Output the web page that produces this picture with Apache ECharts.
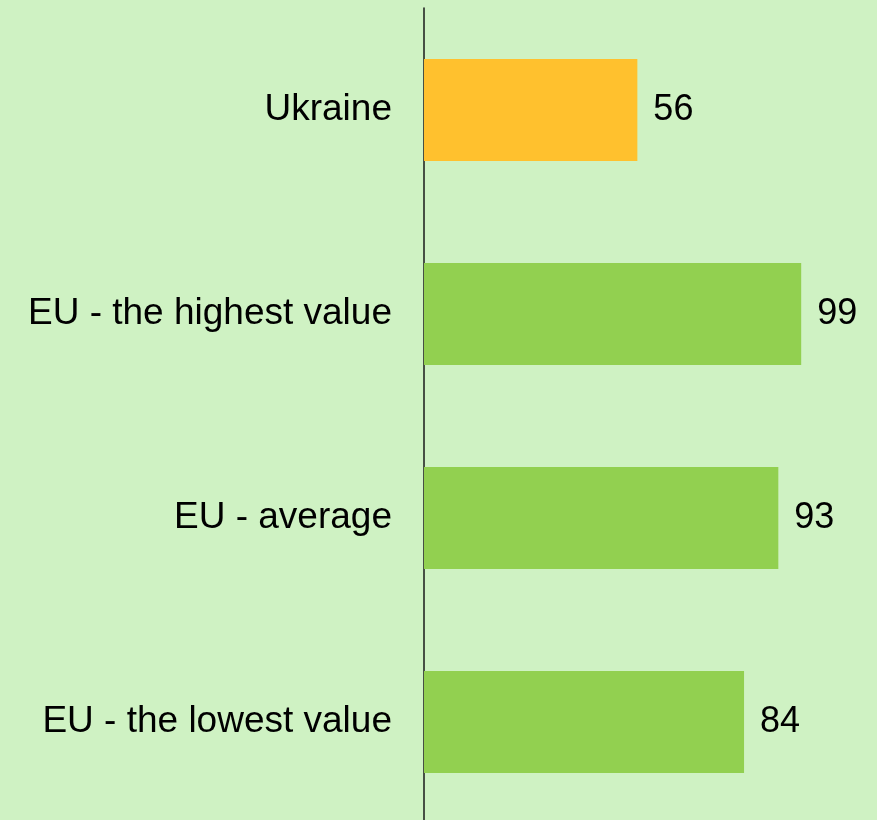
<!DOCTYPE html>
<html>
<head>
<meta charset="utf-8">
<script src="https://cdn.jsdelivr.net/npm/echarts@6/dist/echarts.min.js"></script>
<style>
  html, body { margin: 0; padding: 0; background: #cff2c3; }
  #chart { width: 877px; height: 820px; }
</style>
</head>
<body>
<div id="chart"></div>
<script>
    var categories = ['Ukraine', 'EU - the highest value', 'EU - average', 'EU - the lowest value'];
    var values = [56, 99, 93, 84];
    var barColors = ['#ffc12e', '#92d050', '#92d050', '#92d050'];

    var chart = echarts.init(document.getElementById('chart'));
    chart.setOption({
        backgroundColor: '#cff2c3',
        animation: false,
        grid: {
            left: 424,
            right: 72,
            top: 8,
            height: 816,
            outerBoundsMode: 'none'
        },
        xAxis: {
            type: 'value',
            min: 0,
            max: 100,
            show: false
        },
        yAxis: {
            type: 'category',
            inverse: true,
            data: categories,
            axisLine: {
                show: true,
                lineStyle: { color: '#1a1a1a', width: 1.5 }
            },
            axisTick: { show: false },
            axisLabel: {
                margin: 32,
                fontSize: 37,
                fontFamily: 'Liberation Sans, Arial, sans-serif',
                color: '#000'
            }
        },
        series: [{
            type: 'bar',
            barWidth: 102,
            data: values.map(function (v, i) {
                return { value: v, itemStyle: { color: barColors[i] } };
            }),
            label: {
                show: true,
                position: 'right',
                distance: 16,
                fontSize: 36,
                fontFamily: 'Liberation Sans, Arial, sans-serif',
                color: '#000'
            }
        }]
    });
</script>
</body>
</html>
